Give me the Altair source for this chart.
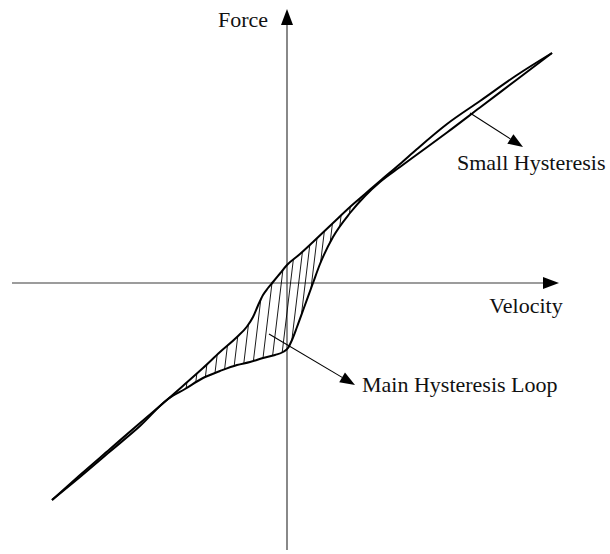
import altair as alt
import numpy as np
import pandas as pd

# Ascending (upper) branch of the force-velocity loop, velocity vs force
up_v = [-2.35, -2.07, -1.77, -1.47, -1.19, -1.02, -0.84, -0.67, -0.50, -0.40,
        -0.34, -0.29, -0.24, -0.19, -0.14, -0.07, 0.00, 0.13, 0.26, 0.46,
        0.63, 0.78, 0.93, 1.13, 1.30, 1.60, 1.93, 2.30, 2.65]
up_f = [-2.17, -1.92, -1.66, -1.40, -1.16, -1.01, -0.85, -0.69, -0.54, -0.435,
        -0.34, -0.225, -0.12, -0.05, 0.01, 0.095, 0.18, 0.29, 0.41, 0.60,
        0.76, 0.89, 1.02, 1.19, 1.34, 1.59, 1.82, 2.08, 2.30]

# Descending (lower) branch
lo_v = [-2.35, -2.07, -1.77, -1.47, -1.19, -1.02, -0.84, -0.67, -0.50, -0.37,
        -0.24, -0.12, -0.04, 0.01, 0.05, 0.10, 0.18, 0.26, 0.33, 0.46,
        0.63, 0.78, 0.93, 1.13, 1.30, 1.60, 1.93, 2.30, 2.65]
lo_f = [-2.17, -1.94, -1.685, -1.43, -1.16, -1.06, -0.95, -0.88, -0.82, -0.79,
        -0.75, -0.72, -0.69, -0.65, -0.57, -0.44, -0.22, 0.00, 0.19, 0.46,
        0.70, 0.87, 1.01, 1.16, 1.285, 1.505, 1.755, 2.035, 2.30]

# Axis extents (start, end of shaft, arrow tip)
v_axis = [-2.75, 2.72]
f_axis = [-2.67, 2.74]

# Annotation arrows: start point and tip
labels = ["Small Hysteresis", "Main Hysteresis Loop"]
label_from_v = [1.83, -0.18]
label_from_f = [1.70, -0.51]
label_tip_v = [2.36, 0.68]
label_tip_f = [1.36, -1.02]
label_text_v = [1.70, 0.75]
label_text_f = [1.13, -1.09]

V_DOMAIN = [-2.87, 3.23]
F_DOMAIN = [-2.71, 2.83]
W, H = 610, 554
PX = W / (V_DOMAIN[1] - V_DOMAIN[0])  # pixels per unit (same on both axes)

FONT = "Liberation Serif"
HEAD = "M0,-1L0.75,1L-0.75,1Z"   # arrowhead pointing up, unit box


def monotone_tangents(x, y):
    """Tangents of d3's monotoneX curve (the 'monotone' interpolation)."""
    x = np.asarray(x, float)
    y = np.asarray(y, float)
    h = np.diff(x)
    s = np.diff(y) / h
    t = np.zeros(len(x))
    for i in range(1, len(x) - 1):
        h0, h1, s0, s1 = h[i - 1], h[i], s[i - 1], s[i]
        p = (s0 * h1 + s1 * h0) / (h0 + h1)
        t[i] = (np.sign(s0) + np.sign(s1)) * min(abs(s0), abs(s1), 0.5 * abs(p))
    t[0] = (3 * s[0] - t[1]) / 2
    t[-1] = (3 * s[-1] - t[-2]) / 2
    return t


def curve_at(x, y, xq):
    x = np.asarray(x, float)
    y = np.asarray(y, float)
    t = monotone_tangents(x, y)
    xq = np.asarray(xq, float)
    i = np.clip(np.searchsorted(x, xq) - 1, 0, len(x) - 2)
    h = x[i + 1] - x[i]
    u = (xq - x[i]) / h
    return ((2 * u**3 - 3 * u**2 + 1) * y[i] + (u**3 - 2 * u**2 + u) * h * t[i]
            + (-2 * u**3 + 3 * u**2) * y[i + 1] + (u**3 - u**2) * h * t[i + 1])


# Slanted hatching filling the region between the two branches
HATCH_STEP = 0.096
HATCH_SLANT = 0.12
hatch_rows = []
ts = np.linspace(0, 1.5, 3001)
for v0 in np.arange(-1.20, 0.95, HATCH_STEP):
    f0 = float(curve_at(lo_v, lo_f, v0))
    gap = f0 + ts - curve_at(up_v, up_f, v0 + HATCH_SLANT * ts)
    k = int(np.argmax(gap >= 0))
    if gap[k] < 0 or ts[k] * PX < 3.0:
        continue
    hatch_rows.append({"v": v0, "f": f0, "v2": v0 + HATCH_SLANT * ts[k], "f2": f0 + ts[k]})
hatch = pd.DataFrame(hatch_rows)

loop = pd.DataFrame(
    [{"branch": "up", "i": i, "v": v, "f": f} for i, (v, f) in enumerate(zip(up_v, up_f))]
    + [{"branch": "down", "i": i, "v": v, "f": f} for i, (v, f) in enumerate(zip(lo_v, lo_f))]
)

# Arrow geometry (heads drawn as rotated symbols)
AX_HEAD = 16.0 / PX
LB_HEAD = 15.0 / PX
heads = [
    {"v": 0.0, "f": f_axis[1] - AX_HEAD / 2, "angle": 0.0, "size": 256},
    {"v": v_axis[1] - AX_HEAD / 2, "f": 0.0, "angle": 90.0, "size": 256},
]
shafts = [
    {"v": 0.0, "f": f_axis[0], "v2": 0.0, "f2": f_axis[1] - AX_HEAD, "kind": "axis"},
    {"v": v_axis[0], "f": 0.0, "v2": v_axis[1] - AX_HEAD, "f2": 0.0, "kind": "axis"},
]
for i in range(len(labels)):
    dv = label_tip_v[i] - label_from_v[i]
    df = label_tip_f[i] - label_from_f[i]
    n = np.hypot(dv, df)
    uv, uf = dv / n, df / n
    ang = float(np.degrees(np.arctan2(uv, uf)))
    heads.append({"v": label_tip_v[i] - uv * LB_HEAD / 2, "f": label_tip_f[i] - uf * LB_HEAD / 2,
                  "angle": ang, "size": 225})
    shafts.append({"v": label_from_v[i], "f": label_from_f[i],
                   "v2": label_tip_v[i] - uv * LB_HEAD, "f2": label_tip_f[i] - uf * LB_HEAD,
                   "kind": "label"})
heads = pd.DataFrame(heads)
shafts = pd.DataFrame(shafts)

texts = pd.DataFrame([
    {"v": -0.19, "f": 2.56, "text": "Force", "align": "right"},
    {"v": 2.39, "f": -0.30, "text": "Velocity", "align": "center"},
    {"v": label_text_v[0], "f": label_text_f[0], "text": labels[0], "align": "left"},
    {"v": label_text_v[1], "f": label_text_f[1], "text": labels[1], "align": "left"},
])

xs = alt.Scale(domain=V_DOMAIN, nice=False, zero=False)
ys = alt.Scale(domain=F_DOMAIN, nice=False, zero=False)
X = alt.X("v:Q", scale=xs, axis=None)
Y = alt.Y("f:Q", scale=ys, axis=None)

axis_shafts = alt.Chart(shafts).transform_filter(alt.datum.kind == "axis").mark_rule(
    color="#3a3a3a", strokeWidth=1.2
).encode(x=X, y=Y, x2="v2:Q", y2="f2:Q")

label_shafts = alt.Chart(shafts).transform_filter(alt.datum.kind == "label").mark_rule(
    color="black", strokeWidth=1.1
).encode(x=X, y=Y, x2="v2:Q", y2="f2:Q")

hatch_lines = alt.Chart(hatch).mark_rule(color="black", strokeWidth=0.9).encode(
    x=X, y=Y, x2="v2:Q", y2="f2:Q"
)

loop_lines = alt.Chart(loop).mark_line(
    color="black", strokeWidth=2, interpolate="monotone"
).encode(x=X, y=Y, detail="branch:N", order="i:Q")

arrow_heads = alt.Chart(heads).mark_point(
    shape=HEAD, filled=True, color="black", opacity=1, strokeWidth=0
).encode(
    x=X, y=Y,
    angle=alt.Angle("angle:Q", scale=None),
    size=alt.Size("size:Q", scale=None),
)

text_layers = []
for al in ["left", "center", "right"]:
    text_layers.append(
        alt.Chart(texts).transform_filter(alt.datum.align == al).mark_text(
            font=FONT, fontSize=22, align=al, baseline="alphabetic", color="#111111"
        ).encode(x=X, y=Y, text="text:N")
    )

chart = alt.layer(
    axis_shafts, hatch_lines, loop_lines, label_shafts, arrow_heads, *text_layers
).properties(
    width=W, height=H, padding=0, autosize=alt.AutoSizeParams(type="none")
).configure_view(stroke=None)

chart.save("out.html", embed_options={"renderer": "svg", "actions": False})
